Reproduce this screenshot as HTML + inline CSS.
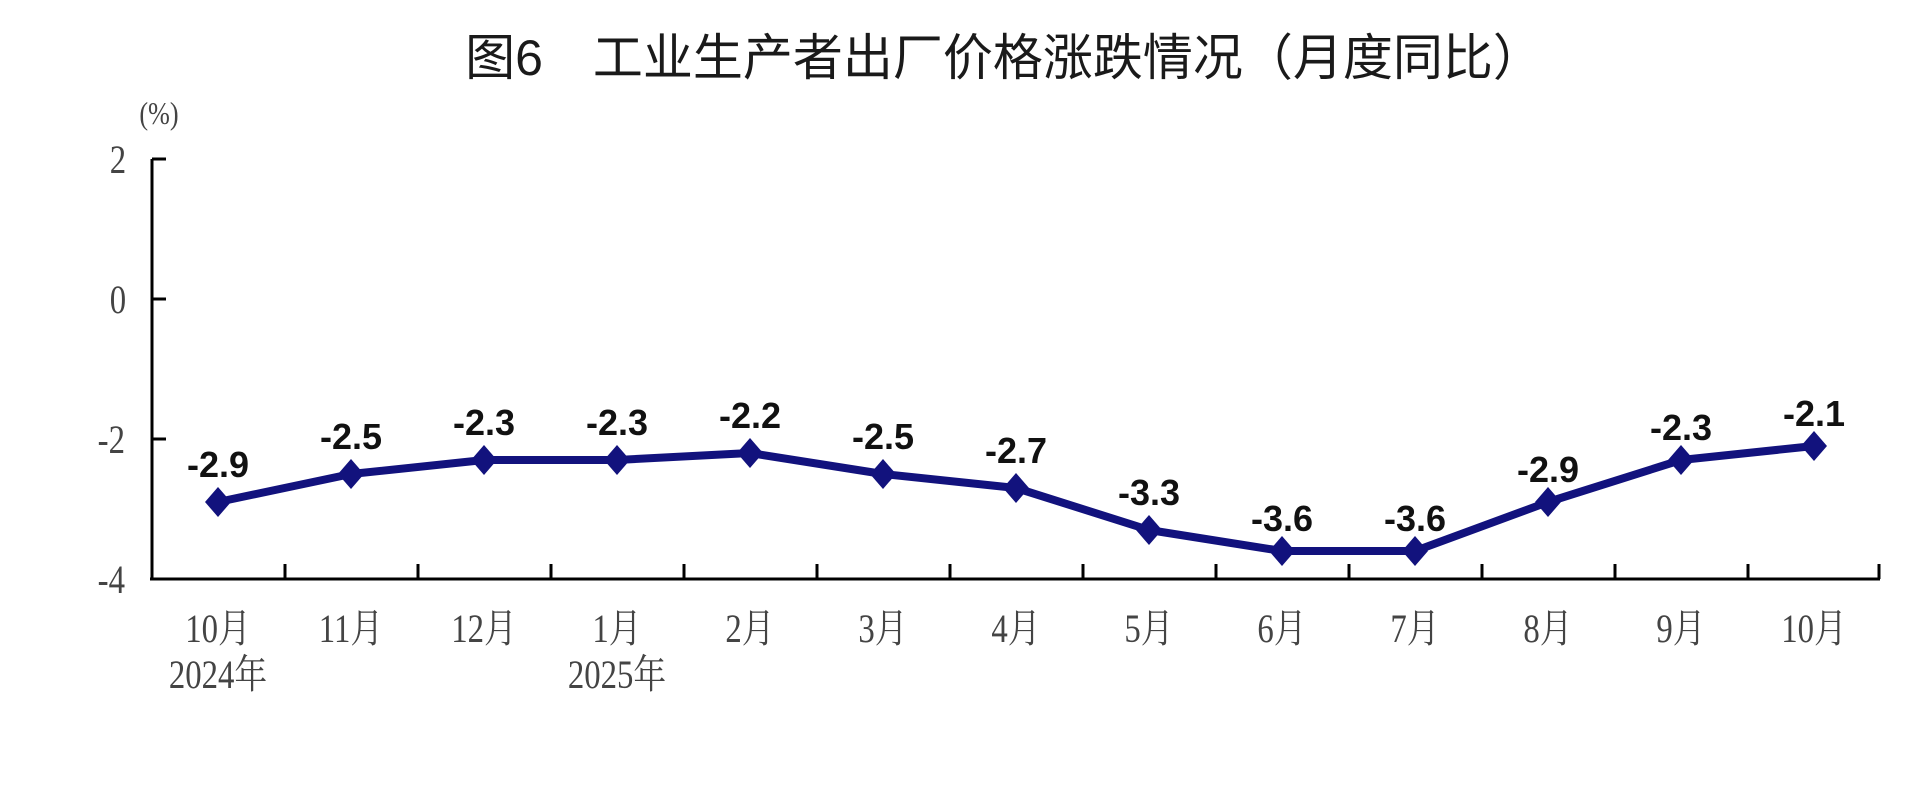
<!DOCTYPE html>
<html><head><meta charset="utf-8"><style>
html,body{margin:0;padding:0;background:#fff;}
svg{display:block;}
.c{transform-box:fill-box;transform-origin:center;transform:scaleX(.82);}
</style></head><body>
<svg width="1919" height="802" viewBox="0 0 1919 802" xmlns="http://www.w3.org/2000/svg">
<text x="1004" y="75" text-anchor="middle" font-family="Liberation Sans, Noto Sans CJK SC, sans-serif" font-size="50" fill="#1a1a1a">图6　工业生产者出厂价格涨跌情况（月度同比）</text>
<text class="c" x="159" y="124" text-anchor="middle" font-family="Liberation Serif, Noto Serif CJK SC, serif" font-size="32" fill="#444">(%)</text>
<g font-family="Liberation Serif, Noto Serif CJK SC, serif" font-size="40" fill="#444" text-anchor="end">
<text class="c" x="128" y="173">2</text><text class="c" x="128" y="313">0</text><text class="c" x="128" y="453">-2</text><text class="c" x="128" y="593">-4</text>
</g>
<g stroke="#000" stroke-width="3" fill="none">
<line x1="152" y1="159" x2="152" y2="580"/>
<line x1="150" y1="579" x2="1880" y2="579"/>
<line x1="152" y1="159" x2="166" y2="159"/><line x1="152" y1="299" x2="166" y2="299"/><line x1="152" y1="439" x2="166" y2="439"/>
<line x1="285" y1="579" x2="285" y2="564"/><line x1="418" y1="579" x2="418" y2="564"/><line x1="551" y1="579" x2="551" y2="564"/><line x1="684" y1="579" x2="684" y2="564"/><line x1="817" y1="579" x2="817" y2="564"/><line x1="950" y1="579" x2="950" y2="564"/><line x1="1083" y1="579" x2="1083" y2="564"/><line x1="1216" y1="579" x2="1216" y2="564"/><line x1="1349" y1="579" x2="1349" y2="564"/><line x1="1482" y1="579" x2="1482" y2="564"/><line x1="1615" y1="579" x2="1615" y2="564"/><line x1="1748" y1="579" x2="1748" y2="564"/><line x1="1879" y1="579" x2="1879" y2="564"/>
</g>
<polyline fill="none" stroke="#12127d" stroke-width="8" stroke-linejoin="round" points="218,502 351,474 484,460 617,460 750,453 883,474 1016,488 1149,530 1282,551 1415,551 1548,502 1681,460 1814,446"/>
<g fill="#12127d">
<path d="M218,487 l13,15 l-13,15 l-13,-15z"/><path d="M351,459 l13,15 l-13,15 l-13,-15z"/><path d="M484,445 l13,15 l-13,15 l-13,-15z"/><path d="M617,445 l13,15 l-13,15 l-13,-15z"/><path d="M750,438 l13,15 l-13,15 l-13,-15z"/><path d="M883,459 l13,15 l-13,15 l-13,-15z"/><path d="M1016,473 l13,15 l-13,15 l-13,-15z"/><path d="M1149,515 l13,15 l-13,15 l-13,-15z"/><path d="M1282,536 l13,15 l-13,15 l-13,-15z"/><path d="M1415,536 l13,15 l-13,15 l-13,-15z"/><path d="M1548,487 l13,15 l-13,15 l-13,-15z"/><path d="M1681,445 l13,15 l-13,15 l-13,-15z"/><path d="M1814,431 l13,15 l-13,15 l-13,-15z"/>
</g>
<g font-family="Liberation Sans, sans-serif" font-weight="bold" font-size="36" fill="#111" text-anchor="middle">
<text x="218" y="477">-2.9</text><text x="351" y="449">-2.5</text><text x="484" y="435">-2.3</text><text x="617" y="435">-2.3</text><text x="750" y="428">-2.2</text><text x="883" y="449">-2.5</text><text x="1016" y="463">-2.7</text><text x="1149" y="505">-3.3</text><text x="1282" y="531">-3.6</text><text x="1415" y="531">-3.6</text><text x="1548" y="482">-2.9</text><text x="1681" y="440">-2.3</text><text x="1814" y="426">-2.1</text>
</g>
<g font-family="Liberation Serif, Noto Serif CJK SC, serif" font-size="40" fill="#444" text-anchor="middle">
<text class="c" x="218" y="642">10月</text><text class="c" x="351" y="642">11月</text><text class="c" x="484" y="642">12月</text><text class="c" x="617" y="642">1月</text><text class="c" x="750" y="642">2月</text><text class="c" x="883" y="642">3月</text><text class="c" x="1016" y="642">4月</text><text class="c" x="1149" y="642">5月</text><text class="c" x="1282" y="642">6月</text><text class="c" x="1415" y="642">7月</text><text class="c" x="1548" y="642">8月</text><text class="c" x="1681" y="642">9月</text><text class="c" x="1814" y="642">10月</text>
<text class="c" x="218" y="688">2024年</text><text class="c" x="617" y="688">2025年</text>
</g>
</svg>
</body></html>
